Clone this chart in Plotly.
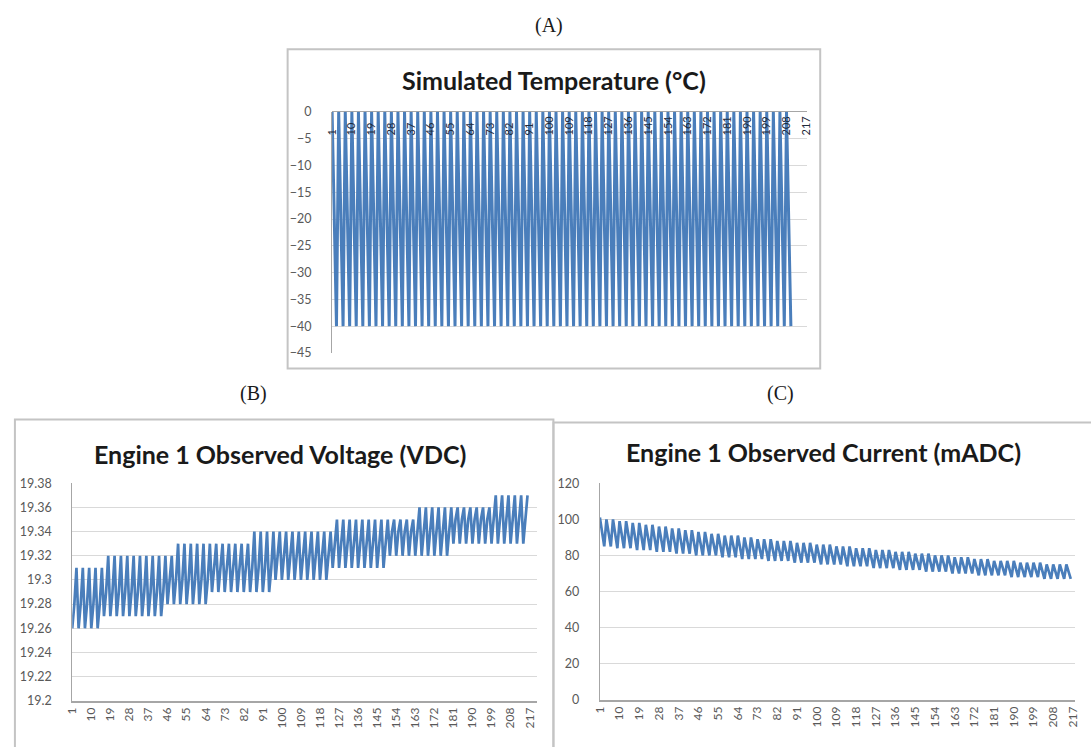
import plotly.graph_objects as go

# ---------------- data ----------------
# Simulated chamber temperature (°C), one value per sample
temperature = [
    0, -20, -40, 0, -20, -40, 0, -20, -40, 0, -20, -40, 0, -20, -40, 0, -20, -40, 0, -20, -40, 0, -20, -40, 0, -20, -40, 0, -20, -40,
    0, -20, -40, 0, -20, -40, 0, -20, -40, 0, -20, -40, 0, -20, -40, 0, -20, -40, 0, -20, -40, 0, -20, -40, 0, -20, -40, 0, -20, -40,
    0, -20, -40, 0, -20, -40, 0, -20, -40, 0, -20, -40, 0, -20, -40, 0, -20, -40, 0, -20, -40, 0, -20, -40, 0, -20, -40, 0, -20, -40,
    0, -20, -40, 0, -20, -40, 0, -20, -40, 0, -20, -40, 0, -20, -40, 0, -20, -40, 0, -20, -40, 0, -20, -40, 0, -20, -40, 0, -20, -40,
    0, -20, -40, 0, -20, -40, 0, -20, -40, 0, -20, -40, 0, -20, -40, 0, -20, -40, 0, -20, -40, 0, -20, -40, 0, -20, -40, 0, -20, -40,
    0, -20, -40, 0, -20, -40, 0, -20, -40, 0, -20, -40, 0, -20, -40, 0, -20, -40, 0, -20, -40, 0, -20, -40, 0, -20, -40, 0, -20, -40,
    0, -20, -40, 0, -20, -40, 0, -20, -40, 0, -20, -40, 0, -20, -40, 0, -20, -40, 0, -20, -40, 0, -20, -40, 0, -20, -40, 0, -20, -40,
]

# Engine 1 observed voltage (VDC)
voltage = [
    19.26, 19.28, 19.31, 19.26, 19.28, 19.31, 19.26, 19.28, 19.31, 19.26, 19.28, 19.31, 19.26, 19.28, 19.31,
    19.27, 19.29, 19.32, 19.27, 19.29, 19.32, 19.27, 19.29, 19.32, 19.27, 19.29, 19.32, 19.27, 19.29, 19.32,
    19.27, 19.29, 19.32, 19.27, 19.29, 19.32, 19.27, 19.29, 19.32, 19.27, 19.29, 19.32, 19.27, 19.29, 19.32,
    19.28, 19.30, 19.32,
    19.28, 19.30, 19.33, 19.28, 19.30, 19.33, 19.28, 19.30, 19.33, 19.28, 19.30, 19.33, 19.28, 19.30, 19.33, 19.28, 19.30, 19.33,
    19.29, 19.31, 19.33, 19.29, 19.31, 19.33, 19.29, 19.31, 19.33, 19.29, 19.31, 19.33, 19.29, 19.31, 19.33, 19.29, 19.31, 19.33,
    19.29, 19.31, 19.34, 19.29, 19.31, 19.34, 19.29, 19.31, 19.34, 19.29, 19.31, 19.34,
    19.30, 19.32, 19.34, 19.30, 19.32, 19.34, 19.30, 19.32, 19.34, 19.30, 19.32, 19.34, 19.30, 19.32, 19.34,
    19.30, 19.32, 19.34, 19.30, 19.32, 19.34, 19.30, 19.32, 19.34, 19.30, 19.32, 19.34,
    19.31, 19.33, 19.35, 19.31, 19.33, 19.35, 19.31, 19.33, 19.35, 19.31, 19.33, 19.35, 19.31, 19.33, 19.35,
    19.31, 19.33, 19.35, 19.31, 19.33, 19.35, 19.31, 19.33, 19.35, 19.31, 19.33, 19.35,
    19.32, 19.34, 19.35, 19.32, 19.34, 19.35, 19.32, 19.34, 19.35, 19.32, 19.34, 19.35,
    19.32, 19.34, 19.36, 19.32, 19.34, 19.36, 19.32, 19.34, 19.36, 19.32, 19.34, 19.36, 19.32, 19.34, 19.36, 19.32, 19.34, 19.36,
    19.33, 19.35, 19.36, 19.33, 19.35, 19.36, 19.33, 19.35, 19.36, 19.33, 19.35, 19.36, 19.33, 19.35, 19.36, 19.33, 19.35, 19.36,
    19.33, 19.35, 19.37, 19.33, 19.35, 19.37, 19.33, 19.35, 19.37, 19.33, 19.35, 19.37, 19.33, 19.35, 19.37, 19.33, 19.35, 19.37,
]

# Engine 1 observed current (mADC)
current = [
    101, 93, 85, 100, 92, 85, 100, 92, 84, 99, 91, 84, 99, 91, 84, 98, 90, 83, 98, 90, 83, 97, 90, 83, 97, 89, 82, 96, 89, 82,
    96, 89, 82, 95, 88, 81, 95, 88, 81, 94, 87, 81, 94, 87, 80, 93, 86, 80, 93, 86, 80, 92, 86, 80, 92, 85, 79, 91, 85, 79,
    91, 85, 79, 91, 84, 78, 90, 84, 78, 90, 84, 78, 89, 83, 78, 89, 83, 77, 89, 83, 77, 88, 82, 77, 88, 82, 77, 88, 82, 76,
    87, 81, 76, 87, 81, 76, 87, 81, 76, 86, 80, 75, 86, 80, 75, 86, 80, 75, 85, 80, 75, 85, 79, 74, 85, 79, 74, 84, 79, 74,
    84, 79, 74, 84, 78, 73, 83, 78, 73, 83, 78, 73, 83, 78, 73, 82, 77, 72, 82, 77, 72, 82, 77, 72, 81, 76, 72, 81, 76, 71,
    81, 76, 71, 80, 75, 71, 80, 75, 71, 80, 75, 70, 79, 74, 70, 79, 74, 70, 79, 74, 70, 78, 73, 69, 78, 73, 69, 78, 73, 69,
    77, 73, 69, 77, 73, 69, 77, 72, 68, 77, 72, 68, 76, 72, 68, 76, 72, 68, 76, 72, 68, 76, 71, 67, 75, 71, 67, 75, 71, 67,
    75, 71, 67, 75, 71, 67,
]

x_ticks = [1, 10, 19, 28, 37, 46, 55, 64, 73, 82, 91, 100, 109, 118, 127,
           136, 145, 154, 163, 172, 181, 190, 199, 208, 217]

titles = ["Simulated Temperature (°C)",
          "Engine 1 Observed Voltage (VDC)",
          "Engine 1 Observed Current (mADC)"]
panel_labels = ["(A)", "(B)", "(C)"]

# ---------------- layout helpers ----------------
W, H = 1091, 747


def fx(px):
    return px / W


def fy(py):
    return 1 - py / H


LINE = "#4a7ebb"
GRID = "#d9d9d9"
AXIS = "#a6a6a6"
TICK = "#595959"
TITLE_FONT = dict(family="Lato", size=25, color="#1a1a1a")
TICK_FONT = dict(family="Lato", size=12.5, color=TICK)

fig = go.Figure()

fig.add_trace(go.Scatter(x=list(range(1, len(temperature) + 1)), y=temperature,
                         mode="lines", line=dict(color=LINE, width=3),
                         xaxis="x", yaxis="y", showlegend=False))
fig.add_trace(go.Scatter(x=list(range(1, len(voltage) + 1)), y=voltage,
                         mode="lines", line=dict(color=LINE, width=2.7),
                         xaxis="x2", yaxis="y2", showlegend=False))
fig.add_trace(go.Scatter(x=list(range(1, len(current) + 1)), y=current,
                         mode="lines", line=dict(color=LINE, width=2.7),
                         xaxis="x3", yaxis="y3", showlegend=False))

common_y = dict(showgrid=True, gridcolor=GRID, gridwidth=1, zeroline=False,
                showline=True, linecolor=AXIS, linewidth=1, ticks="",
                tickfont=TICK_FONT, ticklabelstandoff=17, fixedrange=True)
common_x = dict(tickvals=x_ticks, tickangle=-90, showgrid=False, zeroline=False,
                ticks="", fixedrange=True)

fig.update_layout(
    width=W, height=H, autosize=False,
    margin=dict(l=0, r=0, t=0, b=0),
    paper_bgcolor="white", plot_bgcolor="white",
    # temperature categories sit just under the 0 °C line, over the trace
    xaxis=dict(**common_x, domain=[fx(328), fx(809)], range=[1, 217.5],
               anchor="free", position=fy(130), side="top", showline=False,
               tickfont=dict(family="Lato", size=11, color="#1f2a3a")),
    yaxis=dict(**{**common_y, "zeroline": True}, zerolinecolor=AXIS, zerolinewidth=1,
               domain=[fy(352), fy(106)], range=[-45, 0], dtick=5, anchor="x"),
    xaxis2=dict(**common_x, domain=[fx(65), fx(535)], range=[1, 220.3],
                anchor="y2", showline=True, linecolor=AXIS, linewidth=2,
                tickfont=dict(family="Lato", size=12, color=TICK)),
    yaxis2=dict(**common_y, domain=[fy(707), fy(485)], range=[19.2, 19.38], dtick=0.02,
                anchor="x2"),
    xaxis3=dict(**common_x, domain=[fx(599), fx(1080)], range=[1, 218],
                anchor="y3", showline=True, linecolor=AXIS, linewidth=2,
                tickfont=dict(family="Lato", size=12, color=TICK)),
    yaxis3=dict(**common_y, domain=[fy(706), fy(485)], range=[0, 120], dtick=20,
                anchor="x3"),
)

# panel frames
box_line = dict(color="#c4c4c4", width=2)
fig.add_shape(type="rect", xref="paper", yref="paper",
              x0=fx(283), x1=fx(822), y0=fy(368), y1=fy(42), line=box_line)
fig.add_shape(type="rect", xref="paper", yref="paper",
              x0=fx(7), x1=fx(552), y0=fy(760), y1=fy(420), line=box_line)
fig.add_shape(type="rect", xref="paper", yref="paper",
              x0=fx(552), x1=fx(1100), y0=fy(760), y1=fy(423), line=box_line)

# chart titles
for text, cx, cy in zip(titles, [553, 275, 825], [73, 455, 453]):
    fig.add_annotation(text=f"<b>{text}</b>", xref="paper", yref="paper",
                       x=fx(cx), y=fy(cy), showarrow=False, font=TITLE_FONT,
                       xanchor="center", yanchor="middle")

# panel letters
for text, cx, cy in zip(panel_labels, [548, 248, 782], [18, 393, 393]):
    fig.add_annotation(text=text, xref="paper", yref="paper",
                       x=fx(cx), y=fy(cy), showarrow=False,
                       font=dict(family="Liberation Serif", size=20, color="#1a1a1a"),
                       xanchor="center", yanchor="middle")

fig.write_html("out.html")
